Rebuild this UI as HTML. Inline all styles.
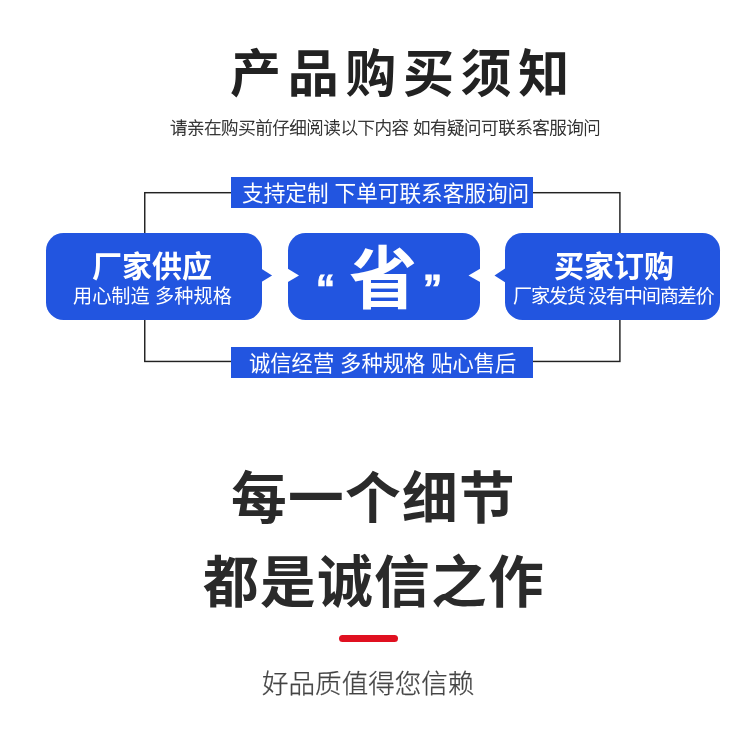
<!DOCTYPE html>
<html lang="zh-CN">
<head>
<meta charset="utf-8">
<title>产品购买须知</title>
<style>
*{margin:0;padding:0;box-sizing:border-box}
html,body{width:750px;height:750px;background:#fff;overflow:hidden}
body{position:relative;font-family:"Liberation Sans","Noto Sans CJK SC",sans-serif;color:#222}
.t{position:absolute;white-space:nowrap;line-height:1;will-change:transform}
#title{left:230.3px;top:49px;font-size:51px;font-weight:700;letter-spacing:6.65px;color:#222}
#sub{left:170.2px;top:120px;font-size:17.5px;letter-spacing:-0.46px;font-weight:300;color:#1c1c1c;-webkit-text-stroke:0.3px #1c1c1c}
.bar{position:absolute;left:231.2px;width:301.5px;height:30.6px;background:#2255e0;color:#fff;font-size:21.64px;line-height:30.6px;white-space:nowrap}
.bar span{will-change:transform;position:absolute;top:1.5px}
#bar1{top:177.3px}
#bar2{top:347.2px}
.box{position:absolute;top:233px;height:87px;background:#2255e0;border-radius:17.5px;color:#fff;white-space:nowrap}
#b1{left:46px;width:215.5px}
#b2{left:288px;width:192px}
#b3{left:504.7px;width:215.3px}
.h{will-change:transform;position:absolute;top:18.6px;font-size:30px;font-weight:700;line-height:1}
.s{will-change:transform;position:absolute;top:54.3px;font-size:19.2px;line-height:1}
#big{will-change:transform;position:absolute;left:61px;top:11.5px;font-size:68px;font-weight:700;line-height:1}
.q{will-change:transform;position:absolute;top:36.8px;font-size:38px;-webkit-text-stroke:0.8px #fff;font-weight:700;line-height:1;font-family:"Liberation Sans",sans-serif}
svg{position:absolute;left:0;top:0}
#l1{left:231.15px;top:472.3px;font-size:55.7px;letter-spacing:1.3px;font-weight:700;color:#2a2a2a}
#l2{left:203.35px;top:555.8px;font-size:55.7px;letter-spacing:1.3px;font-weight:700;color:#2a2a2a}
#red{position:absolute;left:339px;top:635px;width:59.3px;height:7.4px;border-radius:4px;background:#e01020}
#foot{left:261.5px;top:670.7px;font-size:26.55px;font-weight:300;color:#444;-webkit-text-stroke:0.25px #444}
</style>
</head>
<body>
<div class="t" id="title">产品购买须知</div>
<div class="t" id="sub">请亲在购买前仔细阅读以下内容 如有疑问可联系客服询问</div>
<svg width="750" height="750" viewBox="0 0 750 750"><rect x="144.75" y="192.7" width="475.15" height="168.75" fill="none" stroke="#222" stroke-width="1.45"/></svg>
<div class="bar" id="bar1"><span style="left:10.8px">支持定制 下单可联系客服询问</span></div>
<div class="bar" id="bar2"><span style="left:17.4px;font-size:21.3px">诚信经营 多种规格 贴心售后</span></div>
<div class="box" id="b1"><div class="h" style="left:46px">厂家供应</div><div class="s" style="left:27px">用心制造 多种规格</div></div>
<div class="box" id="b2"><div class="q" style="left:28px">“</div><div id="big">省</div><div class="q" style="left:135px">”</div></div>
<div class="box" id="b3"><div class="h" style="left:49.5px">买家订购</div><div class="s" style="left:8.7px;letter-spacing:-1.3px;word-spacing:-0.5px">厂家发货 没有中间商差价</div></div>
<svg width="750" height="750" viewBox="0 0 750 750">
<polygon points="261,268.6 272.1,275.5 261,282.3" fill="#2255e0"/>
<polygon points="505,268.6 494.5,275.5 505,282.3" fill="#2255e0"/>
<polygon points="287.5,268.6 299,275.5 287.5,282.3" fill="#fff"/>
<polygon points="480.5,268.6 468.5,275.5 480.5,282.3" fill="#fff"/>
</svg>
<div class="t" id="l1">每一个细节</div>
<div class="t" id="l2">都是诚信之作</div>
<div id="red"></div>
<div class="t" id="foot">好品质值得您信赖</div>
</body>
</html>
